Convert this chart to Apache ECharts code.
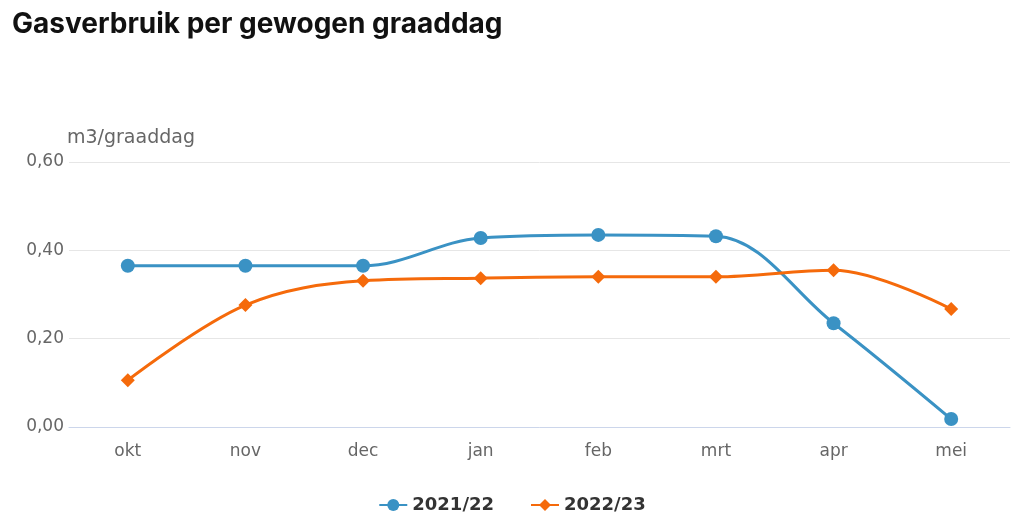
<!DOCTYPE html>
<html><head><meta charset="utf-8">
<script src="https://cdn.jsdelivr.net/npm/echarts@6/dist/echarts.min.js"></script>
<style>html,body{margin:0;padding:0;background:#fff}#c{width:1024px;height:525px}</style>
</head><body><div id="c"></div>
<script>
const title = "Gasverbruik per gewogen graaddag";
const unit = "m3/graaddag";
const categories = ["okt","nov","dec","jan","feb","mrt","apr","mei"];
const series2122 = [0.365,0.365,0.365,0.428,0.435,0.432,0.235,0.018];
const series2223 = [0.106,0.276,0.331,0.337,0.340,0.340,0.355,0.267];
const yTicks = [0, 0.2, 0.4, 0.6];
const chart = echarts.init(document.getElementById('c'));
const fmt = v => v.toFixed(2).replace('.', ',');
chart.setOption({
  animation:false,
  title:{text:title,left:7,top:6,textStyle:{fontFamily:'Inter',fontWeight:'bold',fontSize:28,color:'#111'}},
  grid:{left:69,right:14,top:162,bottom:98},
  legend:{bottom:6,left:'center',itemWidth:28,itemHeight:15,itemGap:36,
    textStyle:{fontFamily:'DejaVu Sans',fontSize:18,color:'#333',fontWeight:'bold'},
    data:['2021/22','2022/23']},
  xAxis:{type:'category',data:categories,boundaryGap:true,
    axisLine:{lineStyle:{color:'#ccd6eb'}},axisTick:{show:false},
    axisLabel:{fontFamily:'DejaVu Sans',fontSize:17,color:'#666',margin:16}},
  yAxis:{type:'value',min:yTicks[0],max:yTicks[yTicks.length-1],interval:0.2,
    name:unit,nameLocation:'end',nameGap:14,
    nameTextStyle:{fontFamily:'DejaVu Sans',fontSize:19,color:'#666',align:'left',padding:[0,0,0,-2]},
    axisLabel:{formatter:fmt,fontFamily:'DejaVu Sans',fontSize:17,color:'#666',margin:5},
    splitLine:{lineStyle:{color:'#e6e6e6'}},axisLine:{show:false},axisTick:{show:false}},
  series:[
    {name:'2021/22',type:'line',data:series2122,smooth:0.35,symbol:'circle',symbolSize:14,
     itemStyle:{color:'#3a92c4'},lineStyle:{width:3,color:'#3a92c4'}},
    {name:'2022/23',type:'line',data:series2223,smooth:0.35,symbol:'diamond',symbolSize:14,
     itemStyle:{color:'#f56a0b'},lineStyle:{width:3,color:'#f56a0b'}}
  ]
});
</script></body></html>
